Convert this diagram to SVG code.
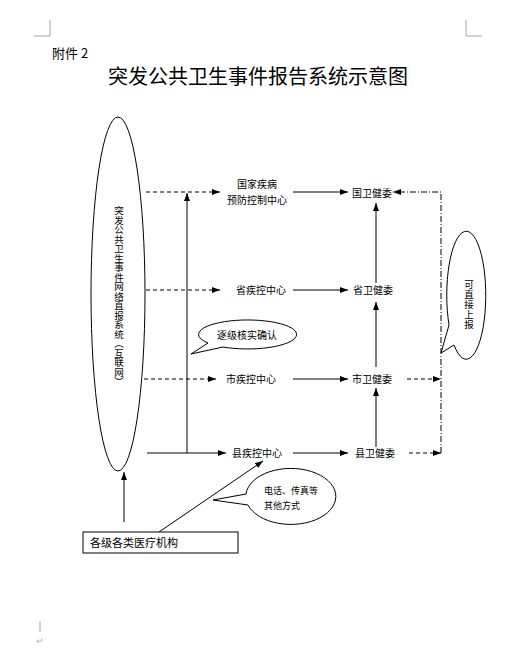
<svg xmlns="http://www.w3.org/2000/svg" width="525" height="650" viewBox="0 0 525 650">
<style>
text{font-family:"Noto Sans CJK SC","Liberation Sans",sans-serif;fill:#000}
.n{font-size:10px;text-anchor:middle;dominant-baseline:central}
.l{stroke:#000;stroke-width:1;fill:none}
.d{stroke:#000;stroke-width:1;fill:none;stroke-dasharray:4,3}
.dd{stroke:#000;stroke-width:1;fill:none;stroke-dasharray:6,2,1,2}
.e{stroke:#000;stroke-width:1;fill:#fff}
.c{stroke:#a6a6a6;stroke-width:1;fill:none}
</style>
<defs>
<marker id="a" viewBox="0 0 8 6" refX="8" refY="3" markerWidth="8" markerHeight="6" markerUnits="userSpaceOnUse" orient="auto"><path d="M0,0L8,3L0,6z" fill="#000"/></marker>
</defs>
<rect width="525" height="650" fill="#fff"/>
<g id="page">
<path class="c" d="M34,36H50V20M466,20V36H482"/>
<path class="c" d="M40,621V632"/>
<text x="36" y="644" style="font-size:9px;fill:#b0b0c8">↵</text>
<text x="52" y="58" style="font-size:13px">附件 2</text>
<text x="258" y="84" style="font-size:20px;text-anchor:middle">突发公共卫生事件报告系统示意图</text>
</g>
<g id="connectors">
<path class="d" d="M146,192H220" marker-end="url(#a)"/>
<path class="d" d="M146,290H220" marker-end="url(#a)"/>
<path class="d" d="M144,379H216" marker-end="url(#a)"/>
<path class="l" d="M147,453H226" marker-end="url(#a)"/>
<path class="l" d="M187,453V193" marker-end="url(#a)"/>
<path class="l" d="M293,192H348" marker-end="url(#a)"/>
<path class="l" d="M293,290H348" marker-end="url(#a)"/>
<path class="l" d="M293,379H348" marker-end="url(#a)"/>
<path class="l" d="M293,453H348" marker-end="url(#a)"/>
<path class="l" d="M376,283V203" marker-end="url(#a)"/>
<path class="l" d="M376,367V302" marker-end="url(#a)"/>
<path class="l" d="M376,447V388" marker-end="url(#a)"/>
<path class="dd" d="M441,453V192H393" marker-end="url(#a)"/>
<path class="d" d="M407,379H441" marker-end="url(#a)"/>
<path class="d" d="M409,453H441" marker-end="url(#a)"/>
<path class="l" d="M124,522V472" marker-end="url(#a)"/>
<path class="l" d="M159,532L263,461" marker-end="url(#a)"/>
</g>
<g id="network">
<ellipse class="e" cx="118" cy="294" rx="27" ry="177"/>
<text x="119" y="206" style="font-size:9.5px;writing-mode:vertical-rl;text-anchor:start">突发公共卫生事件网络直报系统（互联网）</text>
</g>
<g id="national-cdc"><text class="n" x="257" y="183">国家疾病</text><text class="n" x="257" y="199">预防控制中心</text></g>
<g id="national-hc"><text class="n" x="372" y="192">国卫健委</text></g>
<g id="prov-cdc"><text class="n" x="261" y="289">省疾控中心</text></g>
<g id="prov-hc"><text class="n" x="373" y="289">省卫健委</text></g>
<g id="city-cdc"><text class="n" x="251" y="378">市疾控中心</text></g>
<g id="city-hc"><text class="n" x="372" y="378">市卫健委</text></g>
<g id="county-cdc"><text class="n" x="257" y="452">县疾控中心</text></g>
<g id="county-hc"><text class="n" x="375" y="452">县卫健委</text></g>
<g id="callout-verify">
<path class="e" d="M208,343A49,14.5 0 1 1 223,347L191,354Z"/>
<text class="n" x="247" y="334">逐级核实确认</text>
</g>
<g id="callout-direct">
<path class="e" d="M449,325A19.5,64 0 1 1 454,345L441,353Z"/>
<text x="469" y="280" style="font-size:9.5px;writing-mode:vertical-rl;text-anchor:start;letter-spacing:0.5px">可直接上报</text>
</g>
<g id="callout-phone">
<path class="e" d="M248,505A45,28 0 1 0 246,494L213,500Z"/>
<text x="264" y="490" style="font-size:9px;dominant-baseline:central">电话、传真等</text>
<text x="264" y="505" style="font-size:9px;dominant-baseline:central">其他方式</text>
</g>
<g id="medical">
<rect x="83" y="532" width="155" height="21" fill="#fff" stroke="#000"/>
<text x="90" y="547" style="font-size:11px">各级各类医疗机构</text>
</g>
</svg>
